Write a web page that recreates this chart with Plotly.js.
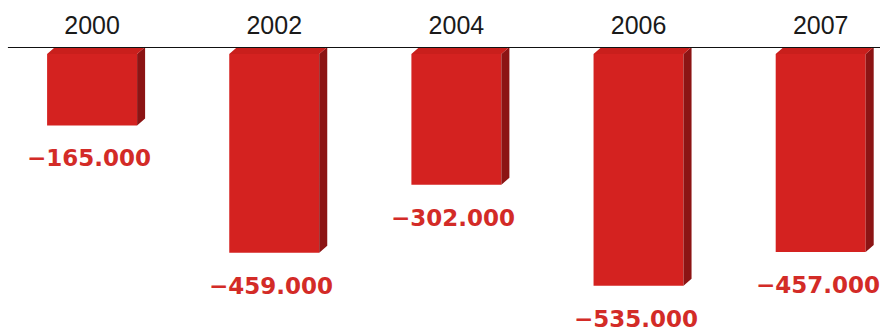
<!DOCTYPE html>
<html>
<head>
<meta charset="utf-8">
<script src="https://cdn.plot.ly/plotly-3.0.1.min.js"></script>
<style>
  html, body { margin: 0; padding: 0; background: #fff; }
  #chart { width: 880px; height: 333px; }
</style>
</head>
<body>
<div id="chart"></div>
<script>
// ---- data ----
const years = ['2000', '2002', '2004', '2006', '2007'];
const values = [-165000, -459000, -302000, -535000, -457000];
const valueLabels = ['−165.000', '−459.000', '−302.000', '−535.000', '−457.000'];

// ---- styling ----
const frontColor = '#d42220';
const sideColor = '#8c1414';
const topColor = '#c91f1c';
const labelColor = '#d32b27';
const barWidth = 0.494;      // in category units
const depthX = 0.044;        // 3D depth, category units
const depthY = 16170;        // 3D depth, value units

const idx = years.map((_, i) => i);

// side faces and top faces built from the bar values
const sideX = [], sideY = [], topX = [], topY = [];
idx.forEach((i) => {
  const v = values[i];
  const r = i + barWidth / 2, l = i - barWidth / 2;
  sideX.push(r, r + depthX, r + depthX, r, r, null);
  sideY.push(0, depthY, v + depthY, v, 0, null);
  topX.push(l, r, r + depthX, l + depthX, l, null);
  topY.push(0, 0, depthY, depthY, 0, null);
});

const traces = [
  {
    type: 'bar', x: idx, y: values, width: barWidth,
    marker: { color: frontColor, line: { width: 0 } },
    hoverinfo: 'skip', showlegend: false
  },
  {
    type: 'scatter', mode: 'lines', x: sideX, y: sideY, fill: 'toself',
    fillcolor: sideColor, line: { width: 0, color: sideColor },
    hoverinfo: 'skip', showlegend: false
  },
  {
    type: 'scatter', mode: 'lines', x: topX, y: topY, fill: 'toself',
    fillcolor: topColor, line: { width: 0, color: topColor },
    hoverinfo: 'skip', showlegend: false
  }
];

const annotations = idx.map((i) => ({
  x: i, y: values[i], xref: 'x', yref: 'y',
  text: valueLabels[i], showarrow: false,
  yanchor: 'middle', xanchor: 'center', yshift: -33, xshift: -3,
  font: { family: 'DejaVu Sans, Liberation Sans, Arial, sans-serif', size: 23, color: labelColor, weight: 'bold' }
}));

const layout = {
  width: 880, height: 333,
  margin: { l: 0, r: 0, t: 47, b: 0, pad: 0 },
  paper_bgcolor: '#ffffff', plot_bgcolor: '#ffffff',
  showlegend: false,
  xaxis: {
    range: [-0.5056, 4.3256], side: 'top',
    tickvals: idx, ticktext: years, ticks: '', ticklen: 0, ticklabelstandoff: 7,
    showgrid: false, zeroline: false, showline: false, fixedrange: true,
    tickfont: { family: 'Liberation Sans, Arial, sans-serif', size: 25, color: '#1a1a1a' }
  },
  yaxis: {
    range: [-644342, depthY], showgrid: false, zeroline: false, showline: false,
    showticklabels: false, ticks: '', fixedrange: true
  },
  shapes: [{
    type: 'line', xref: 'paper', yref: 'y', x0: 0.009, x1: 1, y0: depthY, y1: depthY,
    line: { color: '#111111', width: 2 }, layer: 'above'
  }],
  annotations: annotations
};

Plotly.newPlot('chart', traces, layout, { staticPlot: true, displayModeBar: false });
</script>
</body>
</html>
